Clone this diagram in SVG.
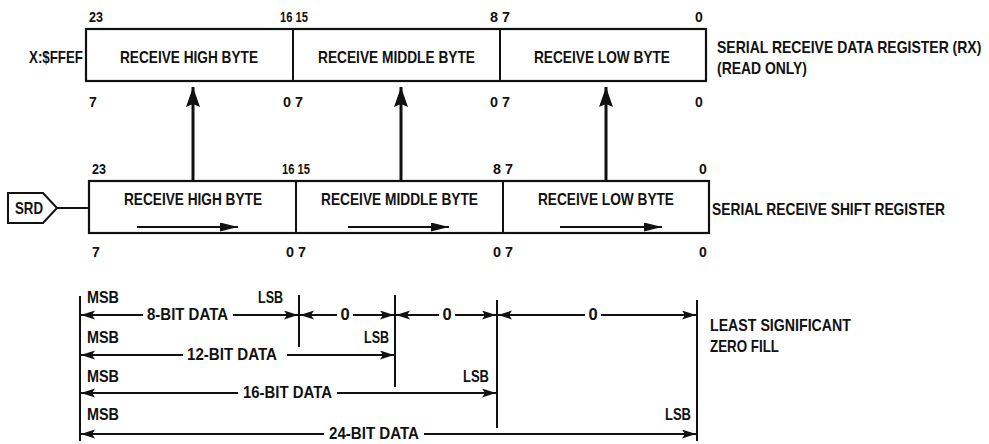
<svg xmlns="http://www.w3.org/2000/svg" width="989" height="444" viewBox="0 0 989 444">
<style>
text{font-family:"Liberation Sans",Arial,sans-serif;fill:#111;font-weight:bold}
.lbl{font-size:16.5px}
.num{font-size:14px}
.c{text-anchor:middle}
.e{text-anchor:end}
.box{fill:#fff;stroke:#111;stroke-width:2.2}
.div{stroke:#111;stroke-width:2}
.up{stroke:#111;stroke-width:3;marker-end:url(#big)}
.sh{stroke:#111;stroke-width:2;marker-end:url(#small)}
.dl{stroke:#111;stroke-width:2;marker-start:url(#dim)}
.dr{stroke:#111;stroke-width:2;marker-end:url(#dim)}
.v{stroke:#111;stroke-width:2}
</style>
<defs>
<marker id="big" markerUnits="userSpaceOnUse" markerWidth="22" markerHeight="14" refX="20" refY="7" orient="auto"><path d="M0,0 L20,7 L0,14 L3,7 z" fill="#111"/></marker>
<marker id="small" markerUnits="userSpaceOnUse" markerWidth="20" markerHeight="10" refX="18" refY="4.5" orient="auto"><path d="M0,0 L18,4.5 L0,9 z" fill="#111"/></marker>
<marker id="dim" markerUnits="userSpaceOnUse" markerWidth="15" markerHeight="10" refX="14" refY="4.5" orient="auto-start-reverse"><path d="M0,0 L14,4.5 L0,9 L3,4.5 z" fill="#111"/></marker>
</defs>

<g id="rx-register">
<rect class="box" x="86" y="29" width="620" height="52"/>
<line class="div" x1="293" y1="29" x2="293" y2="81"/>
<line class="div" x1="500" y1="29" x2="500" y2="81"/>
<text class="lbl" x="120" y="63" textLength="138" lengthAdjust="spacingAndGlyphs">RECEIVE HIGH BYTE</text>
<text class="lbl" x="318" y="63" textLength="157" lengthAdjust="spacingAndGlyphs">RECEIVE MIDDLE BYTE</text>
<text class="lbl" x="534" y="63" textLength="136" lengthAdjust="spacingAndGlyphs">RECEIVE LOW BYTE</text>
<text class="lbl" x="29" y="63" textLength="54" lengthAdjust="spacingAndGlyphs">X:$FFEF</text>
<text class="num" x="89" y="22" textLength="14" lengthAdjust="spacingAndGlyphs">23</text>
<text class="num" x="280" y="22" textLength="28" lengthAdjust="spacingAndGlyphs">16 15</text>
<text class="num" x="490" y="22" textLength="20" lengthAdjust="spacingAndGlyphs">8 7</text>
<text class="num c" x="699" y="22">0</text>
<text class="num" x="89" y="107">7</text>
<text class="num" x="283" y="107" textLength="20" lengthAdjust="spacingAndGlyphs">0 7</text>
<text class="num" x="490" y="107" textLength="20" lengthAdjust="spacingAndGlyphs">0 7</text>
<text class="num c" x="699" y="107">0</text>
<text class="lbl" transform="translate(717,53) scale(0.85,1)" x="0" y="0" textLength="311" lengthAdjust="spacingAndGlyphs">SERIAL RECEIVE DATA REGISTER (RX)</text>
<text class="lbl" x="717" y="74" textLength="90" lengthAdjust="spacingAndGlyphs">(READ ONLY)</text>
</g>

<g id="srd">
<path d="M8,193 H43 L57,208 L43,223 H8 z" fill="#fff" stroke="#111" stroke-width="2"/>
<text class="lbl" x="15" y="214" textLength="28" lengthAdjust="spacingAndGlyphs">SRD</text>
</g>

<g id="shift-register">
<rect class="box" x="89" y="181" width="620" height="52"/>
<line class="div" x1="296" y1="181" x2="296" y2="233"/>
<line class="div" x1="503" y1="181" x2="503" y2="233"/>
<text class="lbl" x="124" y="205" textLength="138" lengthAdjust="spacingAndGlyphs">RECEIVE HIGH BYTE</text>
<text class="lbl" x="321" y="205" textLength="157" lengthAdjust="spacingAndGlyphs">RECEIVE MIDDLE BYTE</text>
<text class="lbl" x="538" y="205" textLength="136" lengthAdjust="spacingAndGlyphs">RECEIVE LOW BYTE</text>
<text class="num" x="92" y="174" textLength="14" lengthAdjust="spacingAndGlyphs">23</text>
<text class="num" x="282" y="174" textLength="28" lengthAdjust="spacingAndGlyphs">16 15</text>
<text class="num" x="493" y="174" textLength="20" lengthAdjust="spacingAndGlyphs">8 7</text>
<text class="num c" x="703" y="174">0</text>
<text class="num" x="92" y="257">7</text>
<text class="num" x="286" y="257" textLength="20" lengthAdjust="spacingAndGlyphs">0 7</text>
<text class="num" x="493" y="257" textLength="20" lengthAdjust="spacingAndGlyphs">0 7</text>
<text class="num c" x="703" y="257">0</text>
<text class="lbl" x="712" y="215" textLength="233" lengthAdjust="spacingAndGlyphs">SERIAL RECEIVE SHIFT REGISTER</text>
</g>

<g id="connectors">
<line x1="57" y1="208" x2="89" y2="208" stroke="#111" stroke-width="2"/>
<line class="up" x1="193" y1="181" x2="193" y2="87"/>
<line class="up" x1="401" y1="181" x2="401" y2="87"/>
<line class="up" x1="606" y1="181" x2="606" y2="87"/>
<line class="sh" x1="137" y1="227" x2="238" y2="227"/>
<line class="sh" x1="348" y1="227" x2="449" y2="227"/>
<line class="sh" x1="560" y1="227" x2="662" y2="227"/>
</g>

<g id="data-formats">
<line class="v" x1="80" y1="296" x2="80" y2="441"/>
<line class="v" x1="299" y1="295" x2="299" y2="347"/>
<line class="v" x1="395" y1="295" x2="395" y2="387"/>
<line class="v" x1="497" y1="300" x2="497" y2="428"/>
<line class="v" x1="697" y1="300" x2="697" y2="441"/>

<text class="lbl" x="87" y="303" textLength="32" lengthAdjust="spacingAndGlyphs">MSB</text>
<text class="lbl" x="258" y="303" textLength="25" lengthAdjust="spacingAndGlyphs">LSB</text>
<line class="dl" x1="81" y1="315" x2="143" y2="315"/>
<text class="lbl" x="147" y="320" textLength="81" lengthAdjust="spacingAndGlyphs">8-BIT DATA</text>
<line class="dr" x1="233" y1="315" x2="298" y2="315"/>
<line class="dl" x1="300" y1="315" x2="337" y2="315"/>
<text class="lbl c" x="345" y="320">0</text>
<line class="dr" x1="353" y1="315" x2="394" y2="315"/>
<line class="dl" x1="396" y1="315" x2="439" y2="315"/>
<text class="lbl c" x="447" y="320">0</text>
<line class="dr" x1="455" y1="315" x2="496" y2="315"/>
<line class="dl" x1="498" y1="315" x2="585" y2="315"/>
<text class="lbl c" x="593" y="320">0</text>
<line class="dr" x1="601" y1="315" x2="696" y2="315"/>
<text class="lbl" x="710" y="331" textLength="141" lengthAdjust="spacingAndGlyphs">LEAST SIGNIFICANT</text>
<text class="lbl" x="710" y="352" textLength="69" lengthAdjust="spacingAndGlyphs">ZERO FILL</text>

<text class="lbl" x="87" y="343" textLength="32" lengthAdjust="spacingAndGlyphs">MSB</text>
<text class="lbl" x="364" y="343" textLength="25" lengthAdjust="spacingAndGlyphs">LSB</text>
<line class="dl" x1="81" y1="355" x2="183" y2="355"/>
<text class="lbl" x="187" y="360" textLength="90" lengthAdjust="spacingAndGlyphs">12-BIT DATA</text>
<line class="dr" x1="287" y1="355" x2="394" y2="355"/>

<text class="lbl" x="87" y="382" textLength="32" lengthAdjust="spacingAndGlyphs">MSB</text>
<text class="lbl" x="463" y="382" textLength="26" lengthAdjust="spacingAndGlyphs">LSB</text>
<line class="dl" x1="81" y1="393" x2="238" y2="393"/>
<text class="lbl" x="243" y="398" textLength="89" lengthAdjust="spacingAndGlyphs">16-BIT DATA</text>
<line class="dr" x1="337" y1="393" x2="496" y2="393"/>

<text class="lbl" x="87" y="420" textLength="32" lengthAdjust="spacingAndGlyphs">MSB</text>
<text class="lbl" x="665" y="420" textLength="26" lengthAdjust="spacingAndGlyphs">LSB</text>
<line class="dl" x1="81" y1="434" x2="324" y2="434"/>
<text class="lbl" x="329" y="439" textLength="90" lengthAdjust="spacingAndGlyphs">24-BIT DATA</text>
<line class="dr" x1="424" y1="434" x2="696" y2="434"/>
</g>
</svg>
